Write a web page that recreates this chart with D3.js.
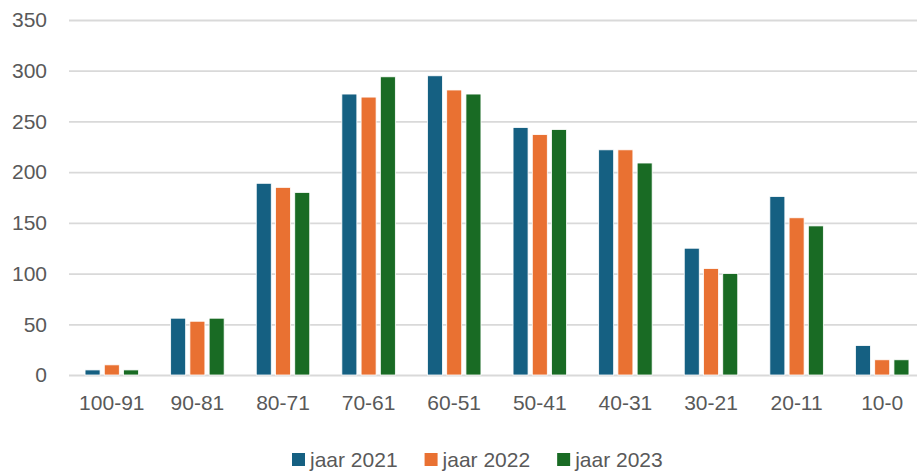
<!DOCTYPE html>
<html>
<head>
<meta charset="utf-8">
<script src="https://cdn.jsdelivr.net/npm/d3@7"></script>
<style>
  html, body { margin: 0; padding: 0; background: #fff; }
  svg { display: block; }
</style>
</head>
<body>
<svg id="chart" width="917" height="473"></svg>
<script>
const categories = ["100-91", "90-81", "80-71", "70-61", "60-51", "50-41", "40-31", "30-21", "20-11", "10-0"];
const seriesNames = ["jaar 2021", "jaar 2022", "jaar 2023"];
const values2021 = [5, 56, 189, 277, 295, 244, 222, 125, 176, 29];
const values2022 = [10, 53, 185, 274, 281, 237, 222, 105, 155, 15];
const values2023 = [5, 56, 180, 294, 277, 242, 209, 100, 147, 15];
const yTicks = [0, 50, 100, 150, 200, 250, 300, 350];
const colors = ["#156082", "#E97132", "#196B24"];

const seriesValues = [values2021, values2022, values2023];
const data = categories.map((c, i) => ({
  cat: c,
  vals: seriesNames.map((s, j) => ({ series: s, value: seriesValues[j][i] }))
}));

const svg = d3.select("#chart");
const font = "'Liberation Sans', Arial, sans-serif";
const textColor = "#595959";

const plotLeft = 69, plotRight = 925, plotTop = 20, plotBottom = 375;

const x0 = d3.scaleBand().domain(categories).range([plotLeft, plotRight]).paddingInner(0.375).paddingOuter(0.1875);
const x1 = d3.scaleBand().domain(seriesNames).range([0, x0.bandwidth()]).paddingInner(0.22).paddingOuter(0);
const y = d3.scaleLinear().domain([0, 350]).range([plotBottom, plotTop]);
const color = d3.scaleOrdinal().domain(seriesNames).range(colors);

// gridlines
const yAxis = d3.axisLeft(y).tickValues(yTicks).tickSize(-(plotRight - plotLeft)).tickPadding(22);
const gy = svg.append("g").attr("transform", `translate(${plotLeft},0)`).call(yAxis);
gy.select(".domain").remove();
gy.selectAll(".tick line").attr("stroke", "#d9d9d9").attr("stroke-width", 1.8);
gy.selectAll(".tick text")
  .attr("fill", textColor)
  .style("font-family", font)
  .style("font-size", "21px");

// bars
const groups = svg.append("g").selectAll("g")
  .data(data).join("g")
  .attr("transform", d => `translate(${x0(d.cat)},0)`);
groups.selectAll("rect")
  .data(d => d.vals).join("rect")
  .attr("x", d => x1(d.series))
  .attr("width", x1.bandwidth())
  .attr("y", d => y(d.value))
  .attr("height", d => y(0) - y(d.value))
  .attr("fill", d => color(d.series))
  .attr("stroke", "#ffffff")
  .attr("stroke-width", 0.8);

// x axis labels
const xAxis = d3.axisBottom(x0).tickSize(0).tickPadding(20);
const gx = svg.append("g").attr("transform", `translate(0,${plotBottom})`).call(xAxis);
gx.select(".domain").remove();
gx.selectAll(".tick text")
  .attr("fill", textColor)
  .style("font-family", font)
  .style("font-size", "21px");

// legend
const legend = svg.append("g");
let lx = 292;
seriesNames.forEach((s, i) => {
  const g = legend.append("g").attr("transform", `translate(${lx},0)`);
  g.append("rect").attr("x", 0).attr("y", 453).attr("width", 13).attr("height", 13).attr("fill", color(s));
  const t = g.append("text").attr("x", 18).attr("y", 460).attr("dy", "0.35em")
    .attr("fill", textColor).style("font-family", font).style("font-size", "21px").text(s);
  const w = t.node().getComputedTextLength();
  lx += 18 + w + 27;
});
</script>
</body>
</html>
